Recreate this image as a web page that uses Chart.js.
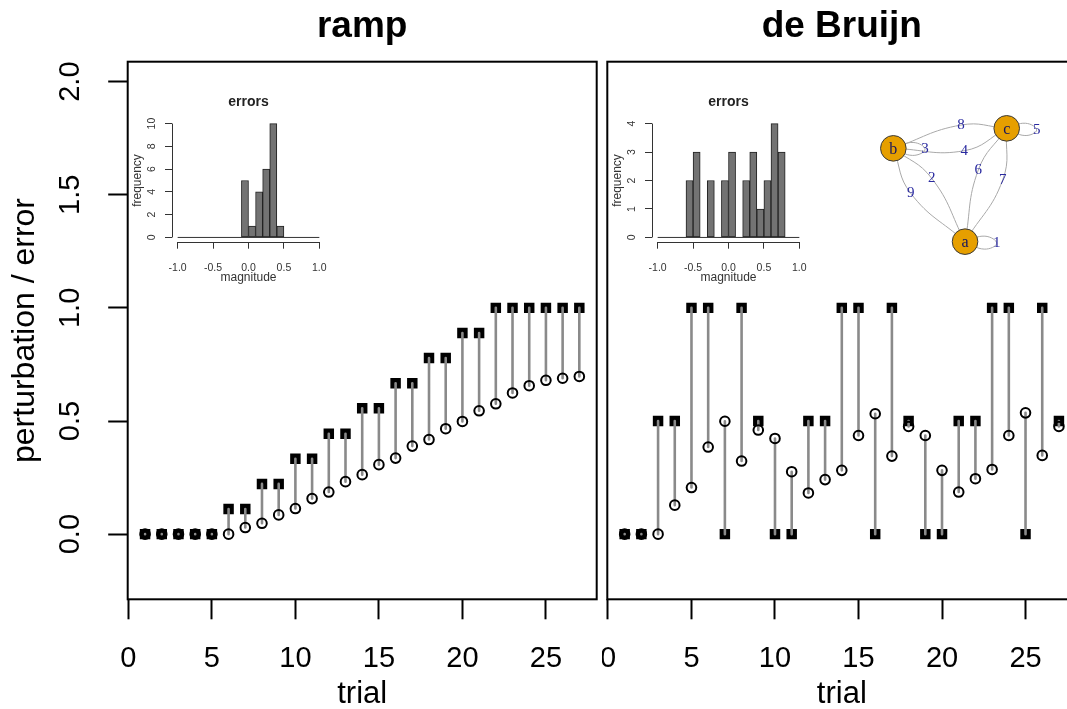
<!DOCTYPE html>
<html lang="en">
<head>
  <meta charset="UTF-8" />
  <title>ramp vs de Bruijn</title>
  <script src="https://cdn.jsdelivr.net/npm/chart.js@4.4.1/dist/chart.umd.min.js"></script>
  <style>
    html, body { margin: 0; padding: 0; background: #fff; overflow: hidden; width: 1067px; height: 709px; }
    canvas { position: absolute; }
    #rampMain { left: 0; top: 0; }
    #bruijnMain { left: 602px; top: 0; }
    #rampHist { left: 128px; top: 88px; }
    #bruijnHist { left: 608px; top: 88px; }
    #graph { left: 860px; top: 100px; }
  </style>
</head>
<body>
  <canvas id="rampMain" width="602" height="709"></canvas>
  <canvas id="bruijnMain" width="480" height="709"></canvas>
  <canvas id="rampHist" width="200" height="196"></canvas>
  <canvas id="bruijnHist" width="200" height="196"></canvas>
  <canvas id="graph" width="200" height="170"></canvas>

  <script>
    const FONT = "'Liberation Sans', Arial, Helvetica, sans-serif";
    const SERIF = "'Liberation Serif', 'Times New Roman', serif";

    // main panels
    const trials = [1, 2, 3, 4, 5, 6, 7, 8, 9, 10, 11, 12, 13, 14, 15, 16, 17, 18, 19, 20, 21, 22, 23, 24, 25, 26, 27];
    const xLim = [1, 27];
    const yLim = [-0.2, 2];
    const xTicks = [0, 5, 10, 15, 20, 25];
    const yTicks = [0, 0.5, 1, 1.5, 2];

    const rampPerturbation = [0, 0, 0, 0, 0, 0.111, 0.111, 0.222, 0.222, 0.333, 0.333, 0.444, 0.444,
      0.556, 0.556, 0.667, 0.667, 0.778, 0.778, 0.889, 0.889, 1, 1, 1, 1, 1, 1];
    const rampResponse = [0, 0, 0, 0, 0, 0, 0.029, 0.048, 0.085, 0.113, 0.157, 0.186, 0.232,
      0.263, 0.307, 0.336, 0.389, 0.418, 0.466, 0.498, 0.545, 0.576, 0.624, 0.656, 0.68, 0.689, 0.697];

    const bruijnPerturbation = [0, 0, 0.5, 0.5, 1, 1, 0, 1, 0.5, 0, 0, 0.5, 0.5, 1, 1, 0, 1, 0.5,
      0, 0, 0.5, 0.5, 1, 1, 0, 1, 0.5];
    const bruijnResponse = [0, 0, 0, 0.128, 0.206, 0.385, 0.499, 0.323, 0.46, 0.423, 0.276, 0.182, 0.241,
      0.282, 0.436, 0.532, 0.345, 0.476, 0.436, 0.282, 0.186, 0.245, 0.286, 0.436, 0.536, 0.348, 0.476];

    // error histograms
    const histBreaks = [-1, -0.9, -0.8, -0.7, -0.6, -0.5, -0.4, -0.3, -0.2, -0.1, 0,
      0.1, 0.2, 0.3, 0.4, 0.5, 0.6, 0.7, 0.8, 0.9, 1];
    const histXTicks = [-1, -0.5, 0, 0.5, 1];
    const rampErrorCounts = [0, 0, 0, 0, 0, 0, 0, 0, 0, 5, 1, 4, 6, 10, 1, 0, 0, 0, 0, 0];
    const bruijnErrorCounts = [0, 0, 0, 0, 2, 3, 0, 2, 0, 2, 3, 0, 2, 3, 1, 2, 4, 3, 0, 0];
    const rampHistYTicks = [0, 2, 4, 6, 8, 10];
    const bruijnHistYTicks = [0, 1, 2, 3, 4];

    // de Bruijn graph (layout coordinates)
    const nodeNames = ['a', 'b', 'c'];
    const nodeX = [0.265, -1, 1];
    const nodeY = [-1, 0.647, 1];
    const edgeLabels = ['1', '2', '3', '4', '5', '6', '7', '8', '9'];
    const edgeFrom = ['a', 'a', 'b', 'b', 'c', 'a', 'a', 'b', 'a'];
    const edgeTo = ['a', 'b', 'b', 'c', 'c', 'c', 'c', 'c', 'b'];
    const edgeLabelX = [0.824, -0.323, -0.441, 0.252, 1.529, 0.499, 0.929, 0.194, -0.693];
    const edgeLabelY = [-1.028, 0.118, 0.63, 0.605, 0.97, 0.265, 0.088, 1.058, -0.146];

    // R pads each axis range by 4%
    const padRange = (lim) => {
      const d = (lim[1] - lim[0]) * 0.04;
      return { min: lim[0] - d, max: lim[1] + d };
    };
    const setTicks = (values) => (scale) => { scale.ticks = values.map(v => ({ value: v })); };
    const fixSize = (w, h) => (scale) => {
      if (w != null) scale.width = w;
      if (h != null) scale.height = h;
      scale.paddingLeft = scale.paddingRight = scale.paddingTop = scale.paddingBottom = 0;
    };

    const boxPlugin = {
      id: 'rbox',
      afterDraw(chart, args, opts) {
        if (!opts.draw) return;
        const { ctx, chartArea: a } = chart;
        ctx.save();
        ctx.strokeStyle = '#000';
        ctx.lineWidth = 2;
        ctx.strokeRect(a.left, a.top, a.right - a.left, a.bottom - a.top);
        ctx.restore();
      }
    };

    // axis lines spanning first to last tick, as R draws them
    const axisLinePlugin = {
      id: 'raxis',
      afterDraw(chart, args, opts) {
        if (!opts.draw) return;
        const { ctx, chartArea: a, scales: { x, y } } = chart;
        ctx.save();
        ctx.strokeStyle = '#333';
        ctx.lineWidth = 1;
        ctx.beginPath();
        ctx.moveTo(x.getPixelForValue(x.ticks[0].value), a.bottom + 0.5);
        ctx.lineTo(x.getPixelForValue(x.ticks[x.ticks.length - 1].value), a.bottom + 0.5);
        ctx.moveTo(a.left + 0.5, y.getPixelForValue(y.ticks[0].value));
        ctx.lineTo(a.left + 0.5, y.getPixelForValue(y.ticks[y.ticks.length - 1].value));
        ctx.stroke();
        ctx.restore();
      }
    };

    function mainChart(id, title, pert, resp, showY, pad) {
      const circles = trials.map((t, i) => ({ x: t, y: resp[i] }));
      const squares = trials.map((t, i) => ({ x: t, y: pert[i] }));
      const segments = trials.flatMap((t, i) => [{ x: t, y: pert[i] }, { x: t, y: resp[i] }, { x: t, y: null }]);

      return new Chart(document.getElementById(id), {
        type: 'scatter',
        data: {
          datasets: [
            {
              label: 'response', data: circles, pointStyle: 'circle', pointRadius: 4.8,
              pointBorderWidth: 2, pointBorderColor: '#000', pointBackgroundColor: 'rgba(0,0,0,0)', order: 1
            },
            {
              type: 'line', label: 'error', data: segments, borderColor: '#8a8a8a', borderWidth: 2.6,
              borderCapStyle: 'round', pointRadius: 0, spanGaps: false, tension: 0, order: 2
            },
            {
              label: 'perturbation', data: squares, pointStyle: 'rect', pointRadius: 7.4,
              pointBorderWidth: 0, pointBackgroundColor: '#000', order: 3
            }
          ]
        },
        plugins: [boxPlugin],
        options: {
          responsive: false,
          animation: false,
          devicePixelRatio: 1,
          events: [],
          layout: { padding: pad, autoPadding: false },
          plugins: {
            legend: { display: false },
            tooltip: { enabled: false },
            rbox: { draw: true },
            title: {
              display: true, text: title, color: '#000', fullSize: false,
              font: { family: FONT, size: 37, weight: 'bold', lineHeight: 1.2 },
              padding: { top: 4.6, bottom: 12.7 }
            }
          },
          scales: {
            x: {
              type: 'linear', ...padRange(xLim),
              afterBuildTicks: setTicks(xTicks),
              afterFit: fixSize(null, 109.7),
              border: { display: false },
              grid: { drawOnChartArea: false, tickLength: 20, tickWidth: 2, tickColor: '#000' },
              ticks: {
                autoSkip: false, maxRotation: 0, color: '#000', padding: 21.8,
                font: { family: FONT, size: 29 }, callback: v => String(v)
              },
              title: {
                display: true, text: 'trial', color: '#000',
                font: { family: FONT, size: 31, lineHeight: 0.92 }, padding: { top: 0, bottom: 0 }
              }
            },
            y: {
              type: 'linear', ...padRange(yLim),
              display: showY,
              afterBuildTicks: setTicks(yTicks),
              afterFit: showY ? fixSize(127.7, null) : fixSize(0, null),
              border: { display: false },
              grid: { drawOnChartArea: false, tickLength: 19.5, tickWidth: 2, tickColor: '#000' },
              ticks: {
                minRotation: 90, maxRotation: 90, crossAlign: 'center', padding: 16.6, color: '#000',
                font: { family: FONT, size: 29 }, callback: v => v.toFixed(1)
              },
              title: {
                display: true, text: 'perturbation / error', color: '#000',
                font: { family: FONT, size: 32 }, padding: { top: 5.6, bottom: 0 }
              }
            }
          }
        }
      });
    }

    function histChart(id, counts, yTickVals, yPad) {
      const bars = counts.map((c, i) => ({ x: (histBreaks[i] + histBreaks[i + 1]) / 2, y: c }));
      const baseline = [{ x: histBreaks[0], y: 0 }, { x: histBreaks[histBreaks.length - 1], y: 0 }];
      const yTop = yTickVals[yTickVals.length - 1];

      return new Chart(document.getElementById(id), {
        type: 'bar',
        data: {
          datasets: [
            {
              type: 'line', label: 'zero', data: baseline, borderColor: '#333', borderWidth: 1,
              pointRadius: 0, order: 0
            },
            {
              label: 'errors', data: bars, backgroundColor: '#737373', borderColor: '#222',
              borderWidth: 1, borderSkipped: false, barPercentage: 1, categoryPercentage: 1, order: 1
            }
          ]
        },
        plugins: [axisLinePlugin],
        options: {
          responsive: false,
          animation: false,
          devicePixelRatio: 1,
          events: [],
          layout: { padding: { left: 0, right: 3, top: 0, bottom: 0 }, autoPadding: false },
          plugins: {
            legend: { display: false },
            tooltip: { enabled: false },
            raxis: { draw: true },
            title: {
              display: true, text: 'errors', color: '#222', fullSize: false,
              font: { family: FONT, size: 14, weight: 'bold', lineHeight: 1.2 },
              padding: { top: 5.6, bottom: 8.6 }
            }
          },
          scales: {
            x: {
              type: 'linear', offset: false, ...padRange([-1, 1]),
              afterBuildTicks: setTicks(histXTicks),
              afterFit: fixSize(null, 42),
              border: { display: false },
              grid: { offset: false, drawOnChartArea: false, tickLength: 6.7, tickWidth: 1, tickColor: '#333' },
              ticks: {
                autoSkip: false, maxRotation: 0, color: '#333', padding: 13,
                font: { family: FONT, size: 10.5 }, callback: v => v.toFixed(1)
              },
              title: {
                display: true, text: 'magnitude', color: '#333',
                font: { family: FONT, size: 12, lineHeight: 1 }, padding: { top: 0, bottom: 0 }
              }
            },
            y: {
              type: 'linear', ...padRange([0, yTop]),
              afterBuildTicks: setTicks(yTickVals),
              afterFit: fixSize(44, null),
              border: { display: false },
              grid: { drawOnChartArea: false, tickLength: 7, tickWidth: 1, tickColor: '#333' },
              ticks: {
                minRotation: 90, maxRotation: 90, crossAlign: 'center', padding: yPad, color: '#333',
                font: { family: FONT, size: 10.5 }, callback: v => String(v)
              },
              title: {
                display: true, text: 'frequency', color: '#333',
                font: { family: FONT, size: 12, lineHeight: 1 }, padding: { top: 3.3, bottom: 0 }
              }
            }
          }
        }
      });
    }

    // igraph-like labels on top of edges and vertices
    const graphLabels = {
      id: 'graphLabels',
      afterDatasetsDraw(chart) {
        const { ctx, scales: { x, y } } = chart;
        ctx.save();
        ctx.textAlign = 'center';
        ctx.textBaseline = 'middle';
        ctx.font = `15px ${SERIF}`;
        ctx.fillStyle = '#2a2aa0';
        edgeLabels.forEach((lab, k) => {
          ctx.fillText(lab, x.getPixelForValue(edgeLabelX[k]), y.getPixelForValue(edgeLabelY[k]));
        });
        ctx.font = `16px ${SERIF}`;
        ctx.fillStyle = '#14145e';
        nodeNames.forEach((n, i) => {
          ctx.fillText(n, x.getPixelForValue(nodeX[i]), y.getPixelForValue(nodeY[i]) + 1);
        });
        ctx.restore();
      }
    };

    function edgePoints(k) {
      const f = nodeNames.indexOf(edgeFrom[k]);
      const t = nodeNames.indexOf(edgeTo[k]);
      const p0 = { x: nodeX[f], y: nodeY[f] };
      const via = { x: edgeLabelX[k], y: edgeLabelY[k] };
      if (f !== t) return [p0, via, { x: nodeX[t], y: nodeY[t] }];
      // self loop: narrow teardrop out to the label
      const dx = via.x - p0.x, dy = via.y - p0.y, s = 0.65;
      const rot = (ang) => ({
        x: p0.x + s * (dx * Math.cos(ang) - dy * Math.sin(ang)),
        y: p0.y + s * (dx * Math.sin(ang) + dy * Math.cos(ang))
      });
      return [p0, rot(0.32), via, rot(-0.32), p0];
    }

    function graphChart(id) {
      const edges = edgeLabels.map((lab, k) => ({
        type: 'line', label: 'edge ' + lab, data: edgePoints(k), borderColor: '#a9a9a9',
        borderWidth: 1, pointRadius: 0, tension: 0.45, order: 2
      }));
      const nodes = {
        type: 'scatter', label: 'vertices', data: nodeNames.map((n, i) => ({ x: nodeX[i], y: nodeY[i] })),
        pointRadius: 12.8, pointBorderWidth: 1, pointBorderColor: '#3a3a3a',
        pointBackgroundColor: '#E69F00', order: 1
      };

      return new Chart(document.getElementById(id), {
        type: 'scatter',
        data: { datasets: [nodes, ...edges] },
        plugins: [graphLabels],
        options: {
          responsive: false,
          animation: false,
          devicePixelRatio: 1,
          events: [],
          layout: { padding: 0, autoPadding: false },
          plugins: { legend: { display: false }, tooltip: { enabled: false } },
          scales: {
            x: { type: 'linear', min: -1.588, max: 1.94, display: false },
            y: { type: 'linear', min: -1.5, max: 1.5, display: false }
          }
        }
      });
    }

    mainChart('rampMain', 'ramp', rampPerturbation, rampResponse, true, { left: 0, right: 5.3, top: 0, bottom: 0 });
    mainChart('bruijnMain', 'de Bruijn', bruijnPerturbation, bruijnResponse, false, { left: 5.3, right: 5.7, top: 0, bottom: 0 });
    histChart('rampHist', rampErrorCounts, rampHistYTicks, 7.5);
    histChart('bruijnHist', bruijnErrorCounts, bruijnHistYTicks, 10.4);
    graphChart('graph');
  </script>
</body>
</html>
